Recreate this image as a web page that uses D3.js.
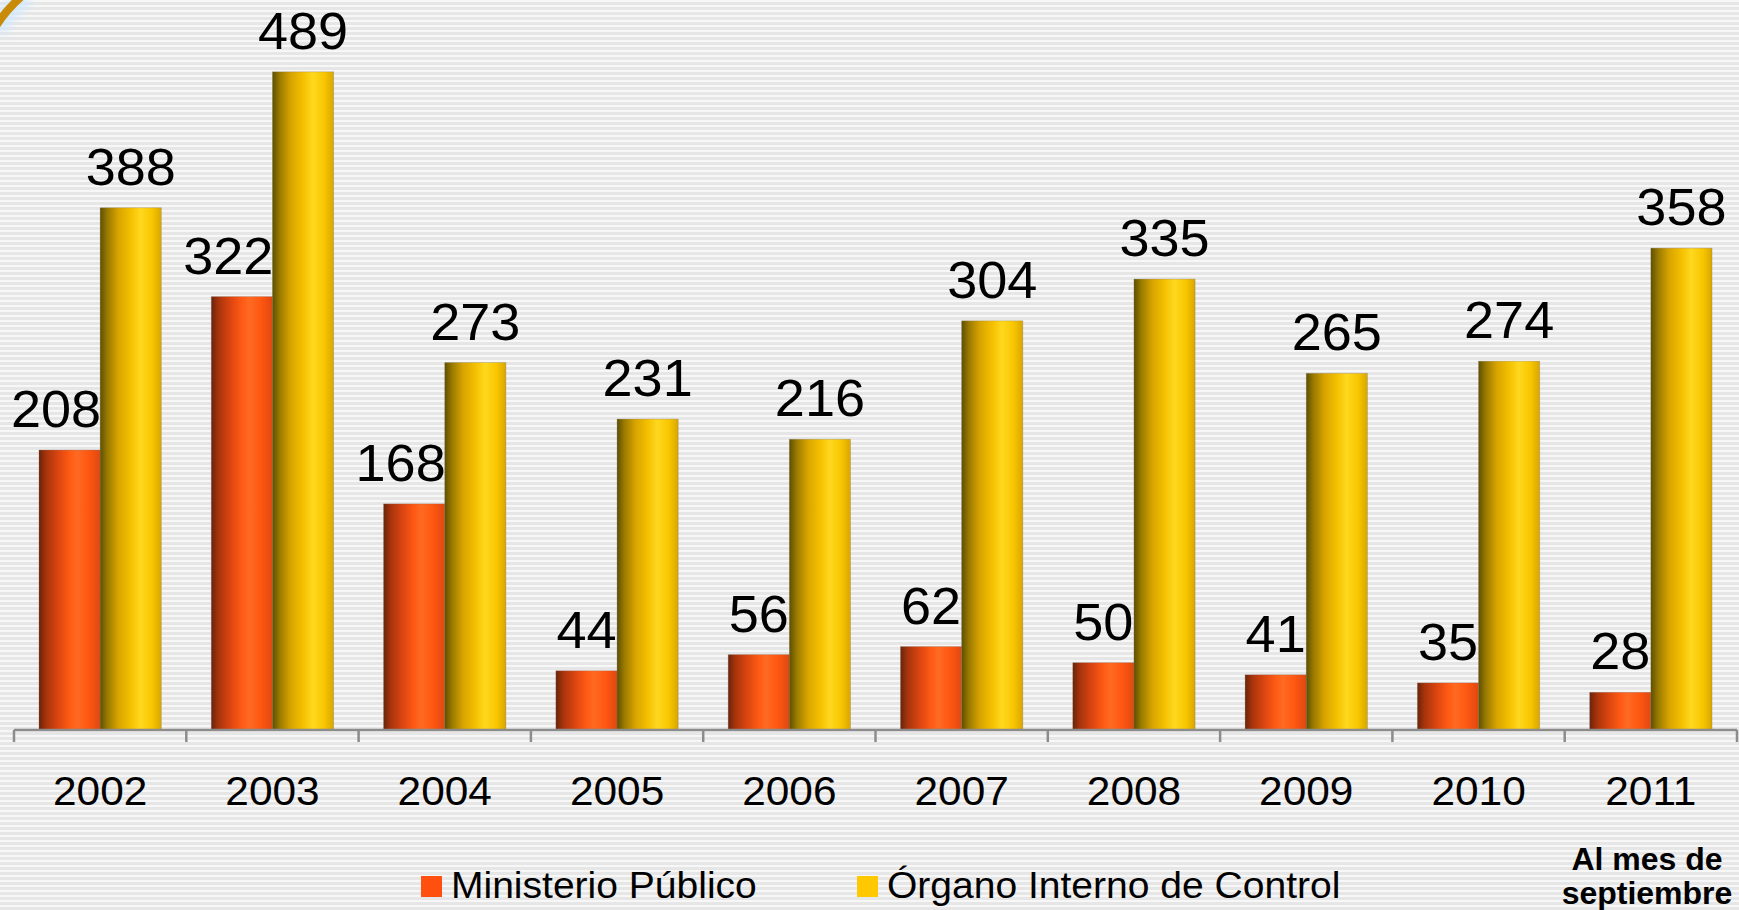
<!DOCTYPE html>
<html>
<head>
<meta charset="utf-8">
<script src="https://cdn.jsdelivr.net/npm/d3@7/dist/d3.min.js"></script>
<style>
html,body{margin:0;padding:0;background:#fff;overflow:hidden;}
svg{display:block;}
text{font-family:"Liberation Sans",Arial,Helvetica,sans-serif;fill:#000;}
</style>
</head>
<body>
<svg id="chart" width="1739" height="910"></svg>
<script>
const years = ["2002","2003","2004","2005","2006","2007","2008","2009","2010","2011"];
const ministerioPublico = [208,322,168,44,56,62,50,41,35,28];
const organoInterno = [388,489,273,231,216,304,335,265,274,358];
const seriesNames = ["Ministerio Público","Órgano Interno de Control"];
const noteLines = ["Al mes de","septiembre"];

const W = 1739, H = 910;
const svg = d3.select("#chart");
const defs = svg.append("defs");

// striped background
const pat = defs.append("pattern").attr("id","stripes").attr("patternUnits","userSpaceOnUse")
  .attr("width",10).attr("height",5);
pat.append("rect").attr("width",10).attr("height",5).attr("fill","#f7f7f7");
pat.append("rect").attr("y",2).attr("width",10).attr("height",3).attr("fill","#e6e6e6");
svg.append("rect").attr("width",W).attr("height",H).attr("fill","url(#stripes)");

// gradients
function grad(id, stops){
  const g = defs.append("linearGradient").attr("id",id).attr("x1","0").attr("x2","1").attr("y1","0").attr("y2","0");
  stops.forEach(s=>g.append("stop").attr("offset",s[0]).attr("stop-color",s[1]));
}
grad("gOrange",[[0,"#6a240a"],[0.12,"#a8340c"],[0.3,"#d84410"],[0.5,"#ff5a14"],[0.62,"#ff6a22"],[0.8,"#ff5812"],[1,"#e04810"]]);
grad("gYellow",[[0,"#5e5000"],[0.12,"#9a7a00"],[0.3,"#d8a400"],[0.5,"#f4c000"],[0.66,"#ffd81e"],[0.85,"#f8c600"],[1,"#d8a600"]]);

// corner arc decoration
const glow = defs.append("filter").attr("id","glow").attr("x","-50%").attr("y","-50%").attr("width","200%").attr("height","200%");
glow.append("feGaussianBlur").attr("stdDeviation",4);
svg.append("path").attr("d","M-4,30 Q8,10 26,-4").attr("stroke","#cfe8ff").attr("stroke-width",18).attr("fill","none").attr("filter","url(#glow)").attr("opacity",0.8);
svg.append("path").attr("d","M-4,26 Q6,10 22,-4").attr("stroke","#c98a08").attr("stroke-width",8).attr("fill","none");

// scales
const baseY = 730;
const y = d3.scaleLinear().domain([0,500]).range([baseY, baseY - 673]);
const x = d3.scaleBand().domain(years).range([14,1737]).paddingInner(0.29).paddingOuter(0.145);
const x1 = d3.scaleBand().domain(seriesNames).range([0, x.bandwidth()]).padding(0);

const data = years.map((yr,i)=>({year:yr, vals:[ministerioPublico[i], organoInterno[i]]}));
const fills = ["url(#gOrange)","url(#gYellow)"];
const solid = ["#ff5010","#ffc800"];

// bars
const groups = svg.append("g").selectAll("g").data(data).join("g")
  .attr("transform", d=>`translate(${x(d.year)},0)`);
groups.selectAll("rect").data(d=>d.vals.map((v,j)=>({v,j}))).join("rect")
  .attr("x", d=>x1(seriesNames[d.j]))
  .attr("y", d=>y(d.v))
  .attr("width", x1.bandwidth())
  .attr("height", d=>baseY - y(d.v))
  .attr("fill", d=>fills[d.j])
  .attr("stroke", "rgba(120,110,100,0.35)").attr("stroke-width",0.8);

// axis line and boundary ticks
const axisG = svg.append("g");
const x0 = x.range()[0];
axisG.append("line").attr("x1",x0).attr("x2",x.range()[1]).attr("y1",baseY).attr("y2",baseY)
  .attr("stroke","#8c8c8c").attr("stroke-width",2.5);
d3.range(years.length+1).forEach(i=>{
  const tx = x0 + i*x.step();
  axisG.append("line").attr("x1",tx).attr("x2",tx).attr("y1",baseY).attr("y2",baseY+12)
    .attr("stroke","#8c8c8c").attr("stroke-width",2.5);
});

// year labels
svg.append("g").selectAll("text").data(years).join("text")
  .attr("text-anchor","middle")
  .attr("transform", d=>`translate(${x(d)+x.bandwidth()/2},805) scale(1.06,1)`)
  .style("font-size","40px")
  .text(d=>d);

// value labels
const lblG = svg.append("g");
data.forEach(d=>{
  d.vals.forEach((v,j)=>{
    const cx = x(d.year) + x1(seriesNames[j]) + x1.bandwidth()/2;
    const t = lblG.append("text")
      .attr("text-anchor","middle")
      .style("font-size","51px")
      .text(v);
    let w = t.node().getComputedTextLength()*1.06;
    let px = cx;
    if (j===0) {
      const yellowLeft = x(d.year) + x1(seriesNames[1]);
      px = Math.min(cx, yellowLeft - w/2 + 1);
    }
    t.attr("transform",`translate(${px},${y(v)-23}) scale(1.06,1)`);
  });
});

// legend
const legendX = [421, 857];
const leg = svg.append("g");
seriesNames.forEach((n,j)=>{
  leg.append("rect").attr("x",legendX[j]).attr("y",876).attr("width",21).attr("height",21).attr("fill",solid[j]);
  leg.append("text").attr("transform",`translate(${legendX[j]+30},898) scale(1.055,1)`).style("font-size","37px").text(n);
});

// note
svg.append("g").selectAll("text").data(noteLines).join("text")
  .attr("x",1647).attr("y",(d,i)=>870 + i*34)
  .attr("text-anchor","middle")
  .style("font-size","32px").style("font-weight","bold")
  .text(d=>d);
</script>
</body>
</html>
